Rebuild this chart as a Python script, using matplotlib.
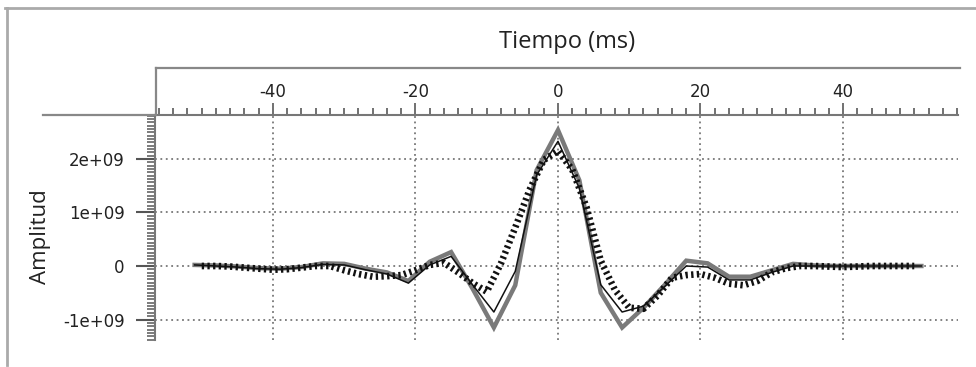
import matplotlib
matplotlib.use("Agg")
import matplotlib.pyplot as plt
import numpy as np
from matplotlib.lines import Line2D
from matplotlib.ticker import MultipleLocator, AutoMinorLocator

plt.rcParams['axes.unicode_minus'] = False

# solid traces, sampled every 3 ms (values in units of 1e9)
t_solid = [-51, -48, -45, -42, -39, -36, -33, -30, -27, -24, -21, -18, -15, -12,
           -9, -6, -3, 0, 3, 6, 9, 12, 15, 18, 21, 24, 27, 30, 33, 36, 39, 42,
           45, 48, 51]
gray_amp = [0.02, 0.01, -0.01, -0.04, -0.05, -0.02, 0.05, 0.04, -0.05, -0.12,
            -0.28, 0.08, 0.26, -0.42, -1.15, -0.36, 1.79, 2.54, 1.60, -0.50,
            -1.15, -0.78, -0.35, 0.10, 0.05, -0.20, -0.20, -0.08, 0.04, 0.01,
            0.0, 0.0, 0.0, 0.0, 0.0]
black_amp = [0.02, 0.0, -0.02, -0.05, -0.06, -0.03, 0.03, 0.02, -0.07, -0.15,
             -0.32, 0.02, 0.18, -0.35, -0.86, -0.10, 1.70, 2.33, 1.45, -0.35,
             -0.86, -0.75, -0.38, 0.0, -0.02, -0.26, -0.26, -0.12, 0.0, 0.0,
             0.0, 0.0, 0.0, 0.0, 0.0]

# dotted trace, sampled every 2 ms
t_dot = [-50, -48, -46, -44, -42, -40, -38, -36, -34, -32, -30, -28, -26, -24,
         -22, -20, -18, -16, -14, -12, -10, -8, -6, -4, -2, 0, 2, 4, 6, 8, 10,
         12, 14, 16, 18, 20, 22, 24, 26, 28, 30, 32, 34, 36, 38, 40, 42, 44,
         46, 48, 50]
dot_amp = [0.0, 0.0, -0.01, -0.03, -0.05, -0.07, -0.06, -0.03, 0.0, 0.0,
           -0.08, -0.15, -0.20, -0.19, -0.17, -0.08, 0.02, 0.06, -0.12, -0.32,
           -0.48, 0.05, 0.72, 1.42, 1.98, 2.15, 1.80, 1.10, 0.10, -0.45, -0.78,
           -0.80, -0.55, -0.22, -0.17, -0.15, -0.22, -0.33, -0.36, -0.28, -0.12,
           -0.04, 0.0, 0.0, -0.01, -0.02, -0.01, 0.0, 0.0, 0.0, 0.0]

x_ticks = [-40, -20, 0, 20, 40]
y_ticks = [-1e9, 0, 1e9, 2e9]
y_tick_labels = ['-1e+09', '0', '1e+09', '2e+09']

W, H = 976, 367
fig = plt.figure(figsize=(W / 100, H / 100), dpi=100)
ax = fig.add_axes([155 / W, 1 - 340 / H, (958 - 155) / W, (340 - 115) / H])

scale = 1e9
ax.plot(t_solid, np.array(gray_amp) * scale, color='#7a7a7a', lw=3.2,
        solid_joinstyle='miter', zorder=3)
ax.plot(t_solid, np.array(black_amp) * scale, color='#111111', lw=1.1, zorder=4)
ax.plot(t_dot, np.array(dot_amp) * scale, color='#111111', lw=4.8,
        linestyle=(0, (0.35, 0.5)), zorder=5)

ax.set_xlim(-56.56, 56.14)
ax.set_ylim(-1.383e9, 2.822e9)

ax.xaxis.tick_top()
ax.set_xticks(x_ticks)
ax.xaxis.set_minor_locator(MultipleLocator(2))
ax.set_yticks(y_ticks)
ax.set_yticklabels(y_tick_labels)
ax.yaxis.set_minor_locator(AutoMinorLocator(16))

for s in ['bottom', 'right']:
    ax.spines[s].set_visible(False)
for s in ['top', 'left']:
    ax.spines[s].set_color('#777777')
    ax.spines[s].set_linewidth(1.5)

ax.tick_params(axis='x', which='major', length=9, width=1.3, color='#666666',
               pad=1, labelsize=12, labelcolor='#222222')
ax.tick_params(axis='x', which='minor', length=5, width=1.3, color='#666666')
ax.tick_params(axis='y', which='major', length=14, width=1.5, color='#555555',
               pad=8, labelsize=12, labelcolor='#222222')
ax.tick_params(axis='y', which='minor', length=6, width=1.2, color='#666666')
for lab in ax.get_xticklabels() + ax.get_yticklabels():
    lab.set_family('DejaVu Sans')

ax.grid(True, which='major', linestyle=(0, (1, 2)), color='#777777', lw=1.3)

ax.set_xlabel('Tiempo (ms)', fontsize=17, family='Open Sans', color='#222222')
ax.xaxis.set_label_position('top')
ax.xaxis.set_label_coords((567 - 155) / 803, (340 - 42) / 225)
ax.xaxis.label.set_va('center')
ax.set_ylabel('Amplitud', fontsize=16, family='Open Sans', color='#222222')
ax.yaxis.set_label_coords((40 - 155) / 803, (340 - 237) / 225)
ax.yaxis.label.set_va('center')

# frame decorations around the plot
def fline(x0, y0, x1, y1, c='#888888', lw=1.6):
    fig.add_artist(Line2D([x0 / W, x1 / W], [1 - y0 / H, 1 - y1 / H],
                          color=c, lw=lw))

fline(156, 68, 960, 68)
fline(156, 68, 156, 115)
fline(43, 115, 156, 115)
fline(5, 8, 976, 8, c='#aaaaaa', lw=2)
fline(7, 8, 7, 365, c='#aaaaaa', lw=2)

fig.savefig('out.png', dpi=100)
